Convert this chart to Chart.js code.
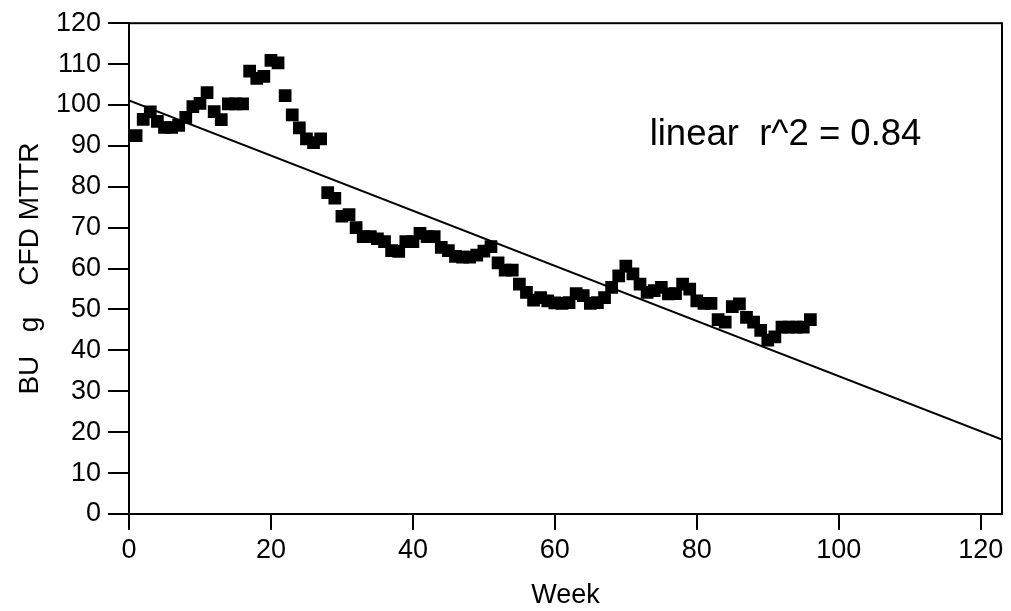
<!DOCTYPE html>
<html>
<head>
<meta charset="utf-8">
<script src="https://cdn.jsdelivr.net/npm/chart.js@4/dist/chart.umd.min.js"></script>
<style>
  html, body { margin: 0; padding: 0; background: #fff; }
  #wrap { width: 1011px; height: 611px; position: relative; }
</style>
</head>
<body>
<div id="wrap"><canvas id="c" width="1011" height="611"></canvas></div>
<script>
// ---- data ----
const weeks = [
  1,2,3,4,5,6,7,8,9,10,11,12,13,14,15,16,17,18,19,20,
  21,22,23,24,25,26,27,28,29,30,31,32,33,34,35,36,37,38,39,40,
  41,42,43,44,45,46,47,48,49,50,51,52,53,54,55,56,57,58,59,60,
  61,62,63,64,65,66,67,68,69,70,71,72,73,74,75,76,77,78,79,80,
  81,82,83,84,85,86,87,88,89,90,91,92,93,94,95,96
];
const mttr = [
  92.5,96.5,98.3,96,94.5,94.5,95,97,99.6,100.4,103,98.4,96.4,100.3,100.3,100.3,108.3,106.5,107,110.9,
  110.3,102.3,97.6,94.4,91.7,90.8,91.7,78.6,77.2,72.8,73.2,70,67.8,67.8,67.3,66.6,64.4,64.2,66.6,66.6,
  68.6,67.8,67.8,65.2,64.4,63,62.8,62.8,63.3,64.3,65.4,61.4,59.6,59.6,56.2,54.2,52.3,52.9,52.1,51.6,
  51.5,51.7,53.9,53.4,51.5,51.7,52.9,55.4,58.2,60.6,58.7,56.2,54.2,54.6,55.4,53.8,53.9,56.2,55,52.1,
  51.5,51.5,47.5,46.9,50.7,51.4,48.1,46.9,44.9,42.5,43.3,45.7,45.7,45.7,45.7,47.5
];
// linear fit end points as drawn in the reference
const fitWeeks = [0, 123];
const fitValues = [101.1, 18.2];
const annotationText = "linear  r^2 = 0.84";
const annotationAt = [92.5, 90.1];
const xTitle = "Week";
const yTitle = "BU   g    CFD MTTR";

const FONT = "'Liberation Sans', Arial, sans-serif";

const framePlugin = {
  id: 'frame',
  afterDatasetsDraw(chart) {
    const {ctx, chartArea: a, scales} = chart;
    ctx.save();
    ctx.strokeStyle = '#000';
    ctx.lineWidth = 2;
    ctx.strokeRect(a.left, a.top, a.right - a.left, a.bottom - a.top);
    ctx.fillStyle = '#000';
    ctx.font = "36.5px " + FONT;
    ctx.textAlign = 'center';
    ctx.textBaseline = 'alphabetic';
    ctx.fillText(annotationText,
      scales.x.getPixelForValue(annotationAt[0]),
      scales.y.getPixelForValue(annotationAt[1]));
    ctx.restore();
  }
};

new Chart(document.getElementById('c'), {
  data: {
    datasets: [
      {
        type: 'scatter',
        data: weeks.map((w, i) => ({x: w, y: mttr[i]})),
        pointStyle: 'rect',
        pointRadius: 9,
        pointHoverRadius: 9,
        backgroundColor: '#000',
        borderWidth: 0
      },
      {
        type: 'line',
        data: fitWeeks.map((w, i) => ({x: w, y: fitValues[i]})),
        borderColor: '#000',
        borderWidth: 2,
        pointRadius: 0,
        fill: false
      }
    ]
  },
  options: {
    responsive: false,
    animation: false,
    events: [],
    layout: { padding: { top: 20, right: 6, left: 0, bottom: 0 } },
    plugins: { legend: { display: false }, tooltip: { enabled: false } },
    scales: {
      x: {
        type: 'linear',
        min: 0, max: 123,
        afterFit(s) { s.height = 97; },
        afterBuildTicks(s) { s.ticks = [0,20,40,60,80,100,120].map(v => ({value: v})); },
        ticks: { color: '#000', font: { family: FONT, size: 27 }, padding: 4, maxRotation: 0 },
        grid: { display: true, drawOnChartArea: false, drawTicks: true, tickLength: 16, color: '#000', lineWidth: 2 },
        border: { display: true, color: '#000', width: 2 },
        title: { display: true, text: xTitle, color: '#000', font: { family: FONT, size: 27, lineHeight: 1 }, padding: { top: 0, bottom: 2 } }
      },
      y: {
        type: 'linear',
        min: 0, max: 120,
        afterFit(s) { s.width = 129; },
        ticks: { stepSize: 10, color: '#000', font: { family: FONT, size: 27 }, padding: 7 },
        grid: { display: true, drawOnChartArea: false, drawTicks: true, tickLength: 21, color: '#000', lineWidth: 2 },
        border: { display: true, color: '#000', width: 2 },
        title: { display: true, text: yTitle, color: '#000', font: { family: FONT, size: 28, lineHeight: 1.2 }, padding: { top: 13, bottom: 0 } }
      }
    }
  },
  plugins: [framePlugin]
});
</script>
</body>
</html>
